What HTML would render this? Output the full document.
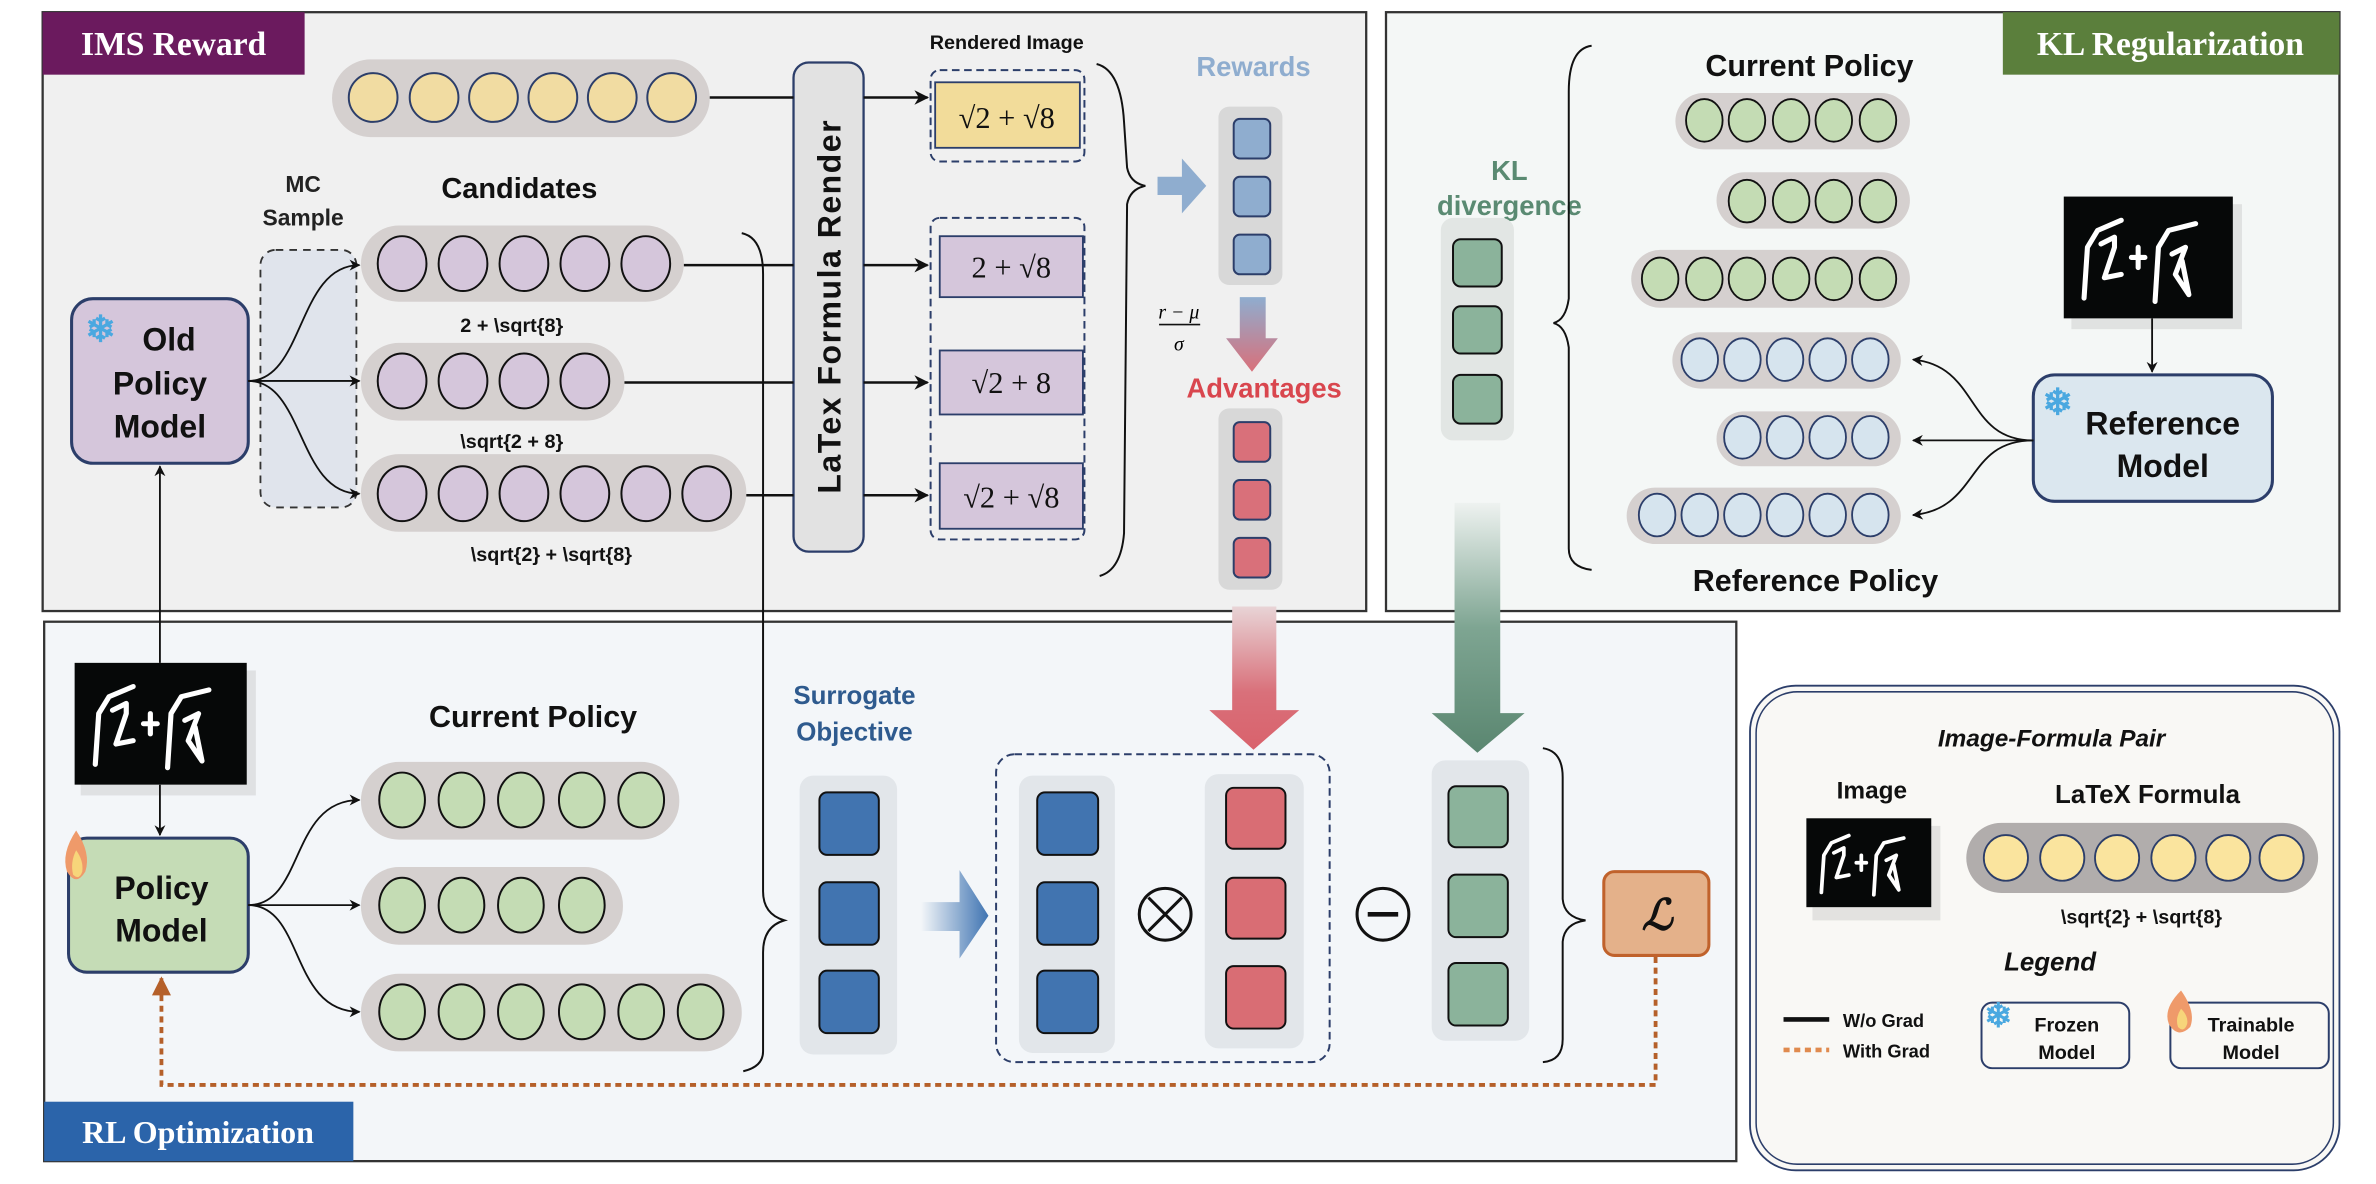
<!DOCTYPE html>
<html><head><meta charset="utf-8"><style>
html,body{margin:0;padding:0;background:#fff;}
svg{display:block;}
text{font-family:"Liberation Sans",sans-serif;font-weight:bold;}
.serif{font-family:"Liberation Serif",serif;}
.nb{font-weight:normal;}
</style></head><body>
<svg width="2376" height="1184" viewBox="0 0 1560 777" preserveAspectRatio="none" xmlns="http://www.w3.org/2000/svg">
<defs>
<marker id="ar" viewBox="0 0 10 10" refX="9" refY="5" markerWidth="6" markerHeight="6" orient="auto-start-reverse"><path d="M0,0 L10,5 L0,10 L3,5 z" fill="#111"/></marker>
<marker id="arO" viewBox="0 0 10 10" refX="9" refY="5" markerWidth="5" markerHeight="5" orient="auto-start-reverse"><path d="M0,0 L10,5 L0,10 z" fill="#b5602a"/></marker>
<linearGradient id="gBR" x1="0" y1="0" x2="0" y2="1"><stop offset="0" stop-color="#8fadcf"/><stop offset="1" stop-color="#d9707a"/></linearGradient>
<linearGradient id="gRed" x1="0" y1="0" x2="0" y2="1"><stop offset="0" stop-color="#e8d4d6"/><stop offset="0.6" stop-color="#d9707a"/><stop offset="1" stop-color="#d9626c"/></linearGradient>
<linearGradient id="gGrn" x1="0" y1="0" x2="0" y2="1"><stop offset="0" stop-color="#eef2f0"/><stop offset="0.5" stop-color="#7ea592"/><stop offset="1" stop-color="#5a8670"/></linearGradient>
<linearGradient id="gBlu" x1="0" y1="0" x2="1" y2="0"><stop offset="0" stop-color="#f2f5f8"/><stop offset="1" stop-color="#3f74b2"/></linearGradient>
<g id="hw">
<rect x="0" y="0" width="100" height="72" fill="#060808"/>
<path d="M12,60 L14,30 L20,20 L34,14 M22,28 L30,24 L30,30 L24,48 L34,46 M40,36 L48,36 M44,30 L44,42 M54,62 L56,30 L62,20 L78,16 M64,34 L72,30 L66,46 L74,58 L70,38" stroke="#fff" stroke-width="3" fill="none" stroke-linecap="round" stroke-linejoin="round"/>
</g>
</defs>

<!-- IMS panel -->
<rect x="28" y="8" width="869" height="393" fill="#f0f0f0" stroke="#333" stroke-width="1.5"/>
<rect x="28" y="8" width="172" height="41" fill="#6b1a5e"/>
<text x="114" y="36" class="serif" font-size="22" fill="#fff" text-anchor="middle">IMS Reward</text>

<!-- KL panel -->
<rect x="910" y="8" width="626" height="393" fill="#f4f7f6" stroke="#333" stroke-width="1.5"/>
<rect x="1315" y="8" width="221" height="41" fill="#5b7f3c"/>
<text x="1425" y="36" class="serif" font-size="22" fill="#fff" text-anchor="middle">KL Regularization</text>

<!-- RL panel -->
<rect x="29" y="408" width="1111" height="354" fill="#f3f6f9" stroke="#333" stroke-width="1.5"/>
<rect x="29" y="723" width="203" height="39" fill="#2b64aa"/>
<text x="130" y="750" class="serif" font-size="21" fill="#fff" text-anchor="middle">RL Optimization</text>

<!-- Legend box -->
<rect x="1149" y="450" width="387" height="318" rx="30" fill="#f9f8f5" stroke="#2c3e6a" stroke-width="1.2"/>
<rect x="1153" y="454" width="379" height="310" rx="27" fill="none" stroke="#2c3e6a" stroke-width="1"/>

<!-- ===== IMS content ===== -->
<rect x="218" y="39" width="248" height="51" rx="25.5" fill="#d5d0cf"/>
<g fill="#f1dca2" stroke="#2c3e6a" stroke-width="1.3">
<ellipse cx="245" cy="64" rx="16" ry="16"/><ellipse cx="285" cy="64" rx="16" ry="16"/><ellipse cx="324" cy="64" rx="16" ry="16"/><ellipse cx="363" cy="64" rx="16" ry="16"/><ellipse cx="402" cy="64" rx="16" ry="16"/><ellipse cx="441" cy="64" rx="16" ry="16"/>
</g>
<text x="661" y="32" font-size="13" text-anchor="middle" fill="#111">Rendered Image</text>
<text x="199" y="126" font-size="15" text-anchor="middle" fill="#222">MC</text>
<text x="199" y="148" font-size="15" text-anchor="middle" fill="#222">Sample</text>
<text x="341" y="130" font-size="19" text-anchor="middle" fill="#111">Candidates</text>

<rect x="171" y="164" width="63" height="169" rx="10" fill="#e0e4ec" stroke="#333" stroke-width="1.2" stroke-dasharray="5,4"/>

<rect x="237" y="148" width="212" height="50" rx="25" fill="#d5d0cf"/>
<rect x="237" y="225" width="173" height="51" rx="25" fill="#d5d0cf"/>
<rect x="237" y="298" width="253" height="51" rx="25" fill="#d5d0cf"/>
<g fill="#d5c6db" stroke="#111" stroke-width="1.3">
<ellipse cx="264" cy="173" rx="16" ry="18"/><ellipse cx="304" cy="173" rx="16" ry="18"/><ellipse cx="344" cy="173" rx="16" ry="18"/><ellipse cx="384" cy="173" rx="16" ry="18"/><ellipse cx="424" cy="173" rx="16" ry="18"/>
<ellipse cx="264" cy="250" rx="16" ry="18"/><ellipse cx="304" cy="250" rx="16" ry="18"/><ellipse cx="344" cy="250" rx="16" ry="18"/><ellipse cx="384" cy="250" rx="16" ry="18"/>
<ellipse cx="264" cy="324" rx="16" ry="18"/><ellipse cx="304" cy="324" rx="16" ry="18"/><ellipse cx="344" cy="324" rx="16" ry="18"/><ellipse cx="384" cy="324" rx="16" ry="18"/><ellipse cx="424" cy="324" rx="16" ry="18"/><ellipse cx="464" cy="324" rx="16" ry="18"/>
</g>
<text x="336" y="218" font-size="13" text-anchor="middle" fill="#111">2 + \sqrt{8}</text>
<text x="336" y="294" font-size="13" text-anchor="middle" fill="#111">\sqrt{2 + 8}</text>
<text x="362" y="368" font-size="13" text-anchor="middle" fill="#111">\sqrt{2} + \sqrt{8}</text>

<!-- Old policy -->
<rect x="47" y="196" width="116" height="108" rx="14" fill="#d5c6db" stroke="#2c3e6a" stroke-width="2"/>
<text x="66" y="224" font-size="24" fill="#4aa8e0" text-anchor="middle" font-family="DejaVu Sans">❄</text>
<text x="111" y="230" font-size="21" text-anchor="middle" fill="#111">Old</text>
<text x="105" y="259" font-size="21" text-anchor="middle" fill="#111">Policy</text>
<text x="105" y="287" font-size="21" text-anchor="middle" fill="#111">Model</text>
<g fill="none" stroke="#111" stroke-width="1.2">
<path d="M163,250 C200,250 195,174 236,174" marker-end="url(#ar)"/>
<path d="M163,250 L236,250" marker-end="url(#ar)"/>
<path d="M163,250 C200,250 195,324 236,324" marker-end="url(#ar)"/>
</g>

<!-- LaTeX bar -->
<rect x="521" y="41" width="46" height="321" rx="10" fill="#e2e2e2" stroke="#2c3e6a" stroke-width="1.5"/>
<text transform="translate(552,201) rotate(-90)" font-size="21" text-anchor="middle" fill="#111" letter-spacing="1">LaTex Formula Render</text>

<g stroke="#111" stroke-width="1.6" fill="none">
<line x1="466" y1="64" x2="521" y2="64"/><line x1="567" y1="64" x2="609" y2="64" marker-end="url(#ar)"/>
<line x1="449" y1="174" x2="521" y2="174"/><line x1="567" y1="174" x2="609" y2="174" marker-end="url(#ar)"/>
<line x1="410" y1="251" x2="521" y2="251"/><line x1="567" y1="251" x2="609" y2="251" marker-end="url(#ar)"/>
<line x1="490" y1="325" x2="521" y2="325"/><line x1="567" y1="325" x2="609" y2="325" marker-end="url(#ar)"/>
</g>

<rect x="611" y="46" width="101" height="60" rx="6" fill="none" stroke="#2c3e6a" stroke-width="1.3" stroke-dasharray="5,3"/>
<rect x="614" y="54" width="95" height="43" fill="#f2dc9a" stroke="#2c3e6a" stroke-width="1.2"/>
<text x="661" y="84" class="serif nb" font-size="20" text-anchor="middle" fill="#111">√2 + √8</text>
<rect x="611" y="143" width="101" height="211" rx="6" fill="none" stroke="#2c3e6a" stroke-width="1.3" stroke-dasharray="5,3"/>
<rect x="617" y="155" width="94" height="40" fill="#d5c6db" stroke="#2c3e6a" stroke-width="1.2"/>
<rect x="617" y="230" width="94" height="42" fill="#d5c6db" stroke="#2c3e6a" stroke-width="1.2"/>
<rect x="617" y="304" width="94" height="43" fill="#d5c6db" stroke="#2c3e6a" stroke-width="1.2"/>
<text x="664" y="182" class="serif nb" font-size="20" text-anchor="middle" fill="#111">2 + √8</text>
<text x="664" y="258" class="serif nb" font-size="20" text-anchor="middle" fill="#111">√2 + 8</text>
<text x="664" y="333" class="serif nb" font-size="20" text-anchor="middle" fill="#111">√2 + √8</text>

<!-- brace -->
<path d="M720,42 Q736,46 738,80 L740,110 Q742,120 752,122 Q742,124 740,134 L738,350 Q736,374 722,378" fill="none" stroke="#111" stroke-width="1.3"/>
<!-- blue arrow -->
<path d="M760,116 L776,116 L776,104 L792,122 L776,140 L776,128 L760,128 z" fill="#8fadcf"/>
<text x="823" y="50" font-size="18" text-anchor="middle" fill="#8fadcf">Rewards</text>
<rect x="800" y="70" width="42" height="117" rx="7" fill="#d8d8d8"/>
<g fill="#8fadcf" stroke="#2c3e6a" stroke-width="1.3">
<rect x="810" y="78" width="24" height="26" rx="4"/><rect x="810" y="116" width="24" height="26" rx="4"/><rect x="810" y="154" width="24" height="26" rx="4"/>
</g>
<text x="774" y="209" class="serif nb" font-style="italic" font-size="13" text-anchor="middle">r − μ</text>
<line x1="761" y1="213" x2="788" y2="213" stroke="#111" stroke-width="1"/>
<text x="774" y="230" class="serif nb" font-style="italic" font-size="13" text-anchor="middle">σ</text>
<path d="M814,195 L831,195 L831,222 L839,222 L822,244 L805,222 L814,222 z" fill="url(#gBR)"/>
<text x="830" y="261" font-size="18" text-anchor="middle" fill="#d9464e">Advantages</text>
<rect x="800" y="268" width="42" height="119" rx="7" fill="#d8d8d8"/>
<g fill="#d9707a" stroke="#2c3e6a" stroke-width="1.3">
<rect x="810" y="277" width="24" height="26" rx="4"/><rect x="810" y="315" width="24" height="26" rx="4"/><rect x="810" y="353" width="24" height="26" rx="4"/>
</g>

<!-- long line to RL brace -->
<path d="M487,153 Q501,156 501,180 L501,585 Q501,600 515,604 Q501,608 501,625 L501,690 Q501,700 488,703" fill="none" stroke="#111" stroke-width="1.3"/>

<!-- ===== KL content ===== -->
<text x="991" y="118" font-size="18" text-anchor="middle" fill="#5a8a72">KL</text>
<text x="991" y="141" font-size="18" text-anchor="middle" fill="#5a8a72">divergence</text>
<rect x="946" y="143" width="48" height="146" rx="8" fill="#e2e6e4"/>
<g fill="#8bb39b" stroke="#111" stroke-width="1.3">
<rect x="954" y="157" width="32" height="31" rx="5"/><rect x="954" y="201" width="32" height="31" rx="5"/><rect x="954" y="246" width="32" height="32" rx="5"/>
</g>
<path d="M1045,30 Q1030,32 1030,60 L1030,196 Q1028,210 1020,212 Q1028,214 1030,228 L1030,360 Q1030,372 1045,374" fill="none" stroke="#111" stroke-width="1.3"/>
<text x="1188" y="50" font-size="20" text-anchor="middle" fill="#111">Current Policy</text>
<text x="1192" y="388" font-size="20" text-anchor="middle" fill="#111">Reference Policy</text>
<g fill="#d5d0cf">
<rect x="1100" y="61" width="154" height="37" rx="18.5"/>
<rect x="1127" y="113" width="127" height="37" rx="18.5"/>
<rect x="1071" y="164" width="183" height="38" rx="19"/>
<rect x="1098" y="218" width="150" height="37" rx="18.5"/>
<rect x="1127" y="270" width="121" height="36" rx="18"/>
<rect x="1068" y="320" width="180" height="37" rx="18.5"/>
</g>
<g fill="#c4dcb4" stroke="#111" stroke-width="1.2">
<ellipse cx="1119" cy="79" rx="12" ry="14"/><ellipse cx="1147" cy="79" rx="12" ry="14"/><ellipse cx="1176" cy="79" rx="12" ry="14"/><ellipse cx="1204" cy="79" rx="12" ry="14"/><ellipse cx="1233" cy="79" rx="12" ry="14"/>
<ellipse cx="1147" cy="132" rx="12" ry="14"/><ellipse cx="1176" cy="132" rx="12" ry="14"/><ellipse cx="1204" cy="132" rx="12" ry="14"/><ellipse cx="1233" cy="132" rx="12" ry="14"/>
<ellipse cx="1090" cy="183" rx="12" ry="14"/><ellipse cx="1119" cy="183" rx="12" ry="14"/><ellipse cx="1147" cy="183" rx="12" ry="14"/><ellipse cx="1176" cy="183" rx="12" ry="14"/><ellipse cx="1204" cy="183" rx="12" ry="14"/><ellipse cx="1233" cy="183" rx="12" ry="14"/>
</g>
<g fill="#d6e4ee" stroke="#2c3e6a" stroke-width="1.2">
<ellipse cx="1116" cy="236" rx="12" ry="14"/><ellipse cx="1144" cy="236" rx="12" ry="14"/><ellipse cx="1172" cy="236" rx="12" ry="14"/><ellipse cx="1200" cy="236" rx="12" ry="14"/><ellipse cx="1228" cy="236" rx="12" ry="14"/>
<ellipse cx="1144" cy="287" rx="12" ry="14"/><ellipse cx="1172" cy="287" rx="12" ry="14"/><ellipse cx="1200" cy="287" rx="12" ry="14"/><ellipse cx="1228" cy="287" rx="12" ry="14"/>
<ellipse cx="1088" cy="338" rx="12" ry="14"/><ellipse cx="1116" cy="338" rx="12" ry="14"/><ellipse cx="1144" cy="338" rx="12" ry="14"/><ellipse cx="1172" cy="338" rx="12" ry="14"/><ellipse cx="1200" cy="338" rx="12" ry="14"/><ellipse cx="1228" cy="338" rx="12" ry="14"/>
</g>
<rect x="1360" y="134" width="112" height="82" fill="#bbb" opacity="0.35"/>
<use href="#hw" transform="translate(1355,129) scale(1.11,1.11)"/>
<line x1="1413" y1="209" x2="1413" y2="244" stroke="#111" stroke-width="1.2" marker-end="url(#ar)"/>
<rect x="1335" y="246" width="157" height="83" rx="14" fill="#dbe7ef" stroke="#2c3e6a" stroke-width="2"/>
<text x="1351" y="272" font-size="24" fill="#4aa8e0" text-anchor="middle" font-family="DejaVu Sans">❄</text>
<text x="1420" y="285" font-size="21" text-anchor="middle" fill="#111">Reference</text>
<text x="1420" y="313" font-size="21" text-anchor="middle" fill="#111">Model</text>
<g fill="none" stroke="#111" stroke-width="1.2">
<path d="M1335,289 C1290,289 1300,240 1256,236" marker-end="url(#ar)"/>
<path d="M1335,289 L1256,289" marker-end="url(#ar)"/>
<path d="M1335,289 C1290,289 1300,334 1256,338" marker-end="url(#ar)"/>
</g>

<!-- ===== RL content ===== -->
<line x1="105" y1="435" x2="105" y2="306" stroke="#111" stroke-width="1.2" marker-end="url(#ar)"/>
<rect x="53" y="440" width="115" height="82" fill="#bbb" opacity="0.35"/>
<use href="#hw" transform="translate(49,435) scale(1.13,1.11)"/>
<line x1="105" y1="515" x2="105" y2="548" stroke="#111" stroke-width="1.2" marker-end="url(#ar)"/>
<rect x="45" y="550" width="118" height="88" rx="12" fill="#c5dcb6" stroke="#2c3e6a" stroke-width="2"/>
<path d="M50,545 Q40,560 44,572 Q50,582 56,572 Q60,560 50,545 z" fill="#ef9a6a"/>
<path d="M50,558 Q46,566 48,574 Q52,578 54,572 Q55,565 50,558 z" fill="#f7d57a"/>
<text x="106" y="590" font-size="21" text-anchor="middle" fill="#111">Policy</text>
<text x="106" y="618" font-size="21" text-anchor="middle" fill="#111">Model</text>
<g fill="none" stroke="#111" stroke-width="1.2">
<path d="M163,594 C200,594 190,525 236,525" marker-end="url(#ar)"/>
<path d="M163,594 L236,594" marker-end="url(#ar)"/>
<path d="M163,594 C200,594 190,664 236,664" marker-end="url(#ar)"/>
</g>
<text x="350" y="477" font-size="20" text-anchor="middle" fill="#111">Current Policy</text>
<g fill="#d5d0cf">
<rect x="237" y="500" width="209" height="51" rx="25"/>
<rect x="237" y="569" width="172" height="51" rx="25"/>
<rect x="237" y="639" width="250" height="51" rx="25"/>
</g>
<g fill="#c4dcb4" stroke="#111" stroke-width="1.3">
<ellipse cx="264" cy="525" rx="15" ry="18"/><ellipse cx="303" cy="525" rx="15" ry="18"/><ellipse cx="342" cy="525" rx="15" ry="18"/><ellipse cx="382" cy="525" rx="15" ry="18"/><ellipse cx="421" cy="525" rx="15" ry="18"/>
<ellipse cx="264" cy="594" rx="15" ry="18"/><ellipse cx="303" cy="594" rx="15" ry="18"/><ellipse cx="342" cy="594" rx="15" ry="18"/><ellipse cx="382" cy="594" rx="15" ry="18"/>
<ellipse cx="264" cy="664" rx="15" ry="18"/><ellipse cx="303" cy="664" rx="15" ry="18"/><ellipse cx="342" cy="664" rx="15" ry="18"/><ellipse cx="382" cy="664" rx="15" ry="18"/><ellipse cx="421" cy="664" rx="15" ry="18"/><ellipse cx="460" cy="664" rx="15" ry="18"/>
</g>
<text x="561" y="462" font-size="17" text-anchor="middle" fill="#2e5a8e">Surrogate</text>
<text x="561" y="486" font-size="17" text-anchor="middle" fill="#2e5a8e">Objective</text>
<rect x="525" y="509" width="64" height="183" rx="9" fill="#e2e6ea"/>
<g fill="#4174b0" stroke="#111" stroke-width="1.3">
<rect x="538" y="520" width="39" height="41" rx="5"/><rect x="538" y="579" width="39" height="41" rx="5"/><rect x="538" y="637" width="39" height="41" rx="5"/>
</g>
<path d="M605,592 L630,592 L630,571 L649,601 L630,629 L630,611 L605,611 z" fill="url(#gBlu)"/>

<rect x="654" y="495" width="219" height="202" rx="12" fill="none" stroke="#2c3e6a" stroke-width="1.3" stroke-dasharray="5,3"/>
<rect x="669" y="509" width="63" height="182" rx="9" fill="#e2e6ea"/>
<rect x="791" y="508" width="65" height="180" rx="9" fill="#e2e6ea"/>
<g fill="#4174b0" stroke="#111" stroke-width="1.3">
<rect x="681" y="520" width="40" height="41" rx="5"/><rect x="681" y="579" width="40" height="41" rx="5"/><rect x="681" y="637" width="40" height="41" rx="5"/>
</g>
<g fill="#d96d74" stroke="#111" stroke-width="1.3">
<rect x="805" y="517" width="39" height="40" rx="5"/><rect x="805" y="576" width="39" height="40" rx="5"/><rect x="805" y="634" width="39" height="41" rx="5"/>
</g>
<circle cx="765" cy="600" r="17" fill="none" stroke="#111" stroke-width="2"/>
<path d="M754,589 L776,611 M776,589 L754,611" stroke="#111" stroke-width="2"/>
<circle cx="908" cy="600" r="17" fill="none" stroke="#111" stroke-width="2"/>
<line x1="898" y1="600" x2="918" y2="600" stroke="#111" stroke-width="3"/>
<!-- red arrow -->
<path d="M809,398 L838,398 L838,466 L853,466 L823,492 L794,466 L809,466 z" fill="url(#gRed)"/>
<!-- green arrow -->
<path d="M955,330 L985,330 L985,468 L1001,468 L970,494 L940,468 L955,468 z" fill="url(#gGrn)"/>
<rect x="940" y="499" width="64" height="184" rx="9" fill="#e2e6ea"/>
<g fill="#8bb39b" stroke="#111" stroke-width="1.3">
<rect x="951" y="516" width="39" height="40" rx="5"/><rect x="951" y="574" width="39" height="41" rx="5"/><rect x="951" y="632" width="39" height="41" rx="5"/>
</g>
<path d="M1013,491 Q1026,493 1026,510 L1026,590 Q1027,602 1041,604 Q1027,606 1026,618 L1026,682 Q1026,696 1013,697" fill="none" stroke="#111" stroke-width="1.3"/>
<rect x="1053" y="572" width="69" height="55" rx="7" fill="#e4b18a" stroke="#c0622c" stroke-width="2"/>
<text x="1088" y="610" class="serif" font-size="28" font-style="italic" text-anchor="middle" fill="#111">ℒ</text>
<path d="M1087,628 L1087,712 L106,712 L106,642" fill="none" stroke="#b5602a" stroke-width="2.5" stroke-dasharray="4,3" marker-end="url(#arO)"/>

<!-- ===== Legend content ===== -->
<text x="1347" y="490" font-size="16" font-style="italic" text-anchor="middle" fill="#111">Image-Formula Pair</text>
<text x="1229" y="524" font-size="16" text-anchor="middle" fill="#111">Image</text>
<text x="1410" y="527" font-size="17" text-anchor="middle" fill="#111">LaTeX Formula</text>
<rect x="1190" y="542" width="84" height="62" fill="#bbb" opacity="0.35"/>
<use href="#hw" transform="translate(1186,537) scale(0.82,0.81)"/>
<rect x="1291" y="540" width="231" height="46" rx="23" fill="#b1adac"/>
<g fill="#fae49e" stroke="#2c3e6a" stroke-width="1.2">
<ellipse cx="1317" cy="563" rx="14.5" ry="15"/><ellipse cx="1354" cy="563" rx="14.5" ry="15"/><ellipse cx="1390" cy="563" rx="14.5" ry="15"/><ellipse cx="1427" cy="563" rx="14.5" ry="15"/><ellipse cx="1463" cy="563" rx="14.5" ry="15"/><ellipse cx="1498" cy="563" rx="14.5" ry="15"/>
</g>
<text x="1406" y="606" font-size="13" text-anchor="middle" fill="#111">\sqrt{2} + \sqrt{8}</text>
<text x="1346" y="637" font-size="17" font-style="italic" text-anchor="middle" fill="#111">Legend</text>
<line x1="1171" y1="669" x2="1201" y2="669" stroke="#111" stroke-width="3"/>
<line x1="1171" y1="689" x2="1201" y2="689" stroke="#e08a4e" stroke-width="3" stroke-dasharray="4,3"/>
<text x="1210" y="674" font-size="12" fill="#111">W/o Grad</text>
<text x="1210" y="694" font-size="12" fill="#111">With Grad</text>
<rect x="1301" y="658" width="97" height="43" rx="7" fill="none" stroke="#2c3e6a" stroke-width="1.3"/>
<text x="1312" y="674" font-size="22" fill="#4aa8e0" text-anchor="middle" font-family="DejaVu Sans">❄</text>
<text x="1357" y="677" font-size="13" text-anchor="middle" fill="#111">Frozen</text>
<text x="1357" y="695" font-size="13" text-anchor="middle" fill="#111">Model</text>
<rect x="1425" y="658" width="104" height="43" rx="7" fill="none" stroke="#2c3e6a" stroke-width="1.3"/>
<path d="M1432,650 Q1420,662 1424,672 Q1430,682 1438,674 Q1442,664 1432,650 z" fill="#ef9a6a"/>
<path d="M1432,662 Q1428,668 1430,674 Q1434,678 1436,672 Q1437,667 1432,662 z" fill="#f7d57a"/>
<text x="1478" y="677" font-size="13" text-anchor="middle" fill="#111">Trainable</text>
<text x="1478" y="695" font-size="13" text-anchor="middle" fill="#111">Model</text>
</svg>
</body></html>
